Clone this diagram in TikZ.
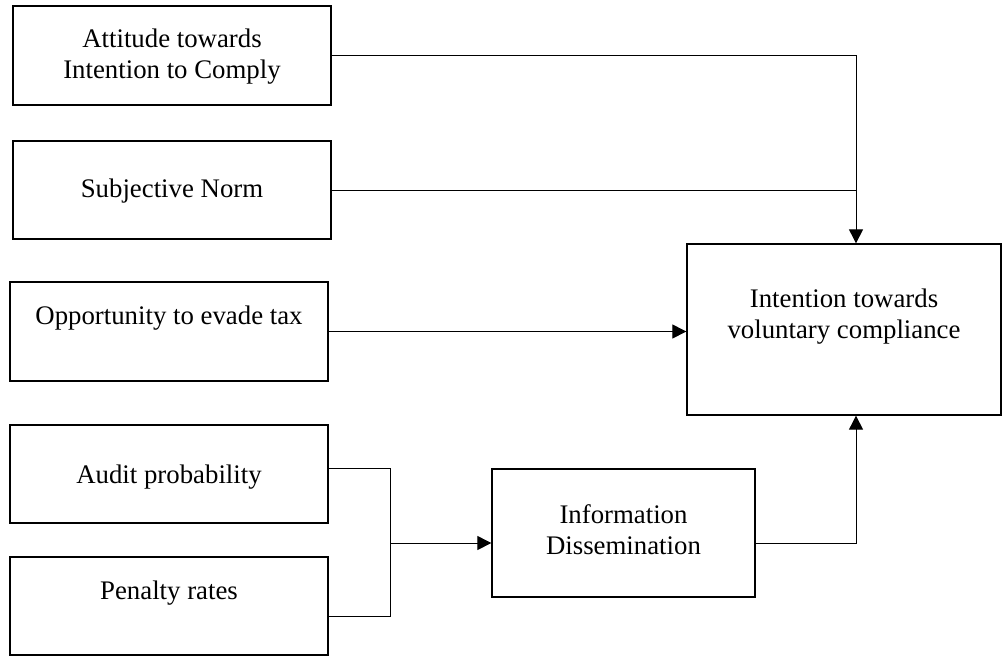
\documentclass[tikz,border=0pt]{standalone}
\usepackage{fontspec}
\setmainfont{Liberation Serif}
\usetikzlibrary{arrows.meta}
\begin{document}
\begin{tikzpicture}[x=1pt,y=-1pt,
  box/.style={draw, line width=1.3pt, rectangle, inner sep=0pt},
  txt/.style={align=center, font=\fontsize{26.8}{31}\selectfont, inner sep=0pt},
  conn/.style={line width=1pt},
  arr/.style={conn, -{Triangle[length=14pt,width=14pt]}}]
\useasboundingbox (0,0) rectangle (1003,656);
% boxes
\node[box, minimum width=318pt, minimum height=99pt] (b1) at (172,55.5) {};
\node[box, minimum width=318pt, minimum height=98pt] (b2) at (172,190) {};
\node[box, minimum width=318pt, minimum height=99pt] (b3) at (169,331.5) {};
\node[box, minimum width=318pt, minimum height=98pt] (b4) at (169,474) {};
\node[box, minimum width=318pt, minimum height=98pt] (b5) at (169,606) {};
\node[box, minimum width=263pt, minimum height=128pt] (I) at (623.5,533) {};
\node[box, minimum width=314pt, minimum height=171pt] (R) at (844,329.5) {};
% texts
\node[txt] (t1) at (172,57) {Attitude towards\\Intention to Comply};
\node[txt] (t2) at (172,191) {Subjective Norm};
\node[txt] (t3) at (169,318) {Opportunity to evade tax};
\node[txt] (t4) at (169,477) {Audit probability};
\node[txt] (t5) at (169,593) {Penalty rates};
\node[txt] (tI) at (623.5,530) {Information\\Dissemination};
\node[txt] (tR) at (844,317) {Intention towards\\voluntary compliance};
% connectors
\coordinate (jx) at (856,0);
\coordinate (m) at (390,543);
\draw[arr] (b1.east) -| (jx |- R.north);
\draw[conn] (b2.east) -- (b2.east -| jx);
\draw[arr] (b3.east) -- (b3.east -| R.west);
\draw[conn] ([yshift=6pt]b4.east) -| (m);
\draw[conn] ([yshift=-10pt]b5.east) -| (m);
\draw[arr] (m) -- (m -| I.west);
\draw[arr] ([yshift=-10pt]I.east) -| (jx |- R.south);
\end{tikzpicture}
\end{document}
